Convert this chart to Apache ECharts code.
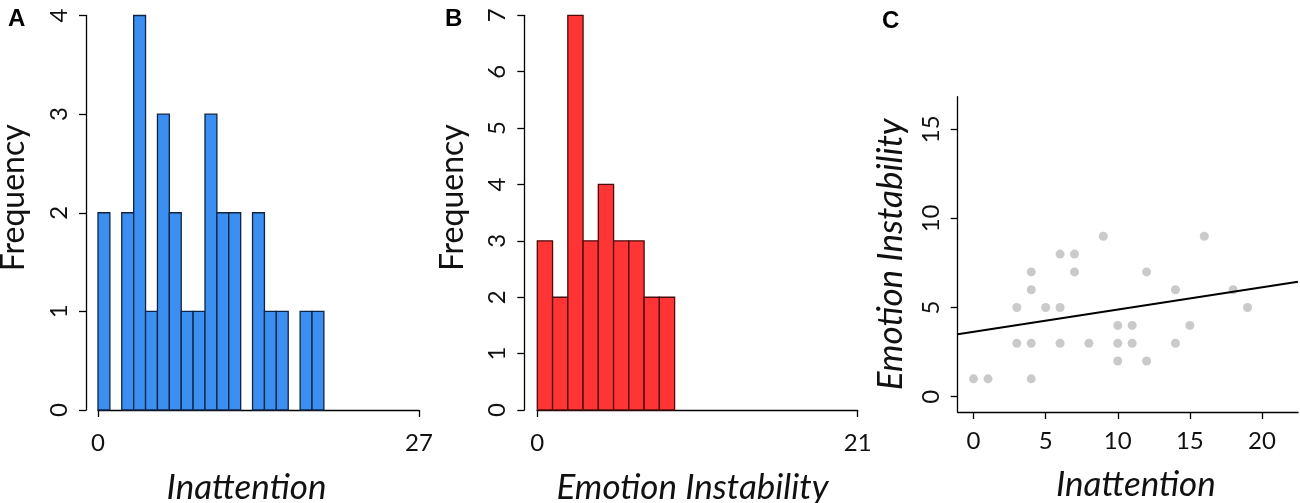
<!DOCTYPE html>
<html lang="en">
<head>
  <meta charset="UTF-8">
  <title>Inattention and Emotion Instability</title>
  <script src="https://cdn.jsdelivr.net/npm/echarts@6/dist/echarts.min.js"></script>
  <style>
    html, body { margin: 0; padding: 0; background: #fff; }
    #chart { width: 1300px; height: 503px; }
  </style>
</head>
<body>
<div id="chart"></div>
<script>
  // histogram A: inattention, bins of width 1 starting at 0
  const inattCounts = [2, 0, 2, 4, 1, 3, 2, 1, 1, 3, 2, 2, 0, 2, 1, 1, 0, 1, 1];
  // histogram B: emotion instability, bins of width 1 starting at 0
  const emoCounts = [3, 2, 7, 3, 4, 3, 3, 2, 2];
  // scatter C
  const scatterX = [0, 1, 3, 3, 4, 4, 4, 4, 5, 6, 6, 6, 7, 7, 8, 9, 10, 10, 10, 11, 11, 12, 12, 14, 14, 15, 16, 18, 19];
  const scatterY = [1, 1, 5, 3, 7, 6, 3, 1, 5, 8, 5, 3, 8, 7, 3, 9, 4, 3, 2, 4, 3, 7, 2, 6, 3, 4, 9, 6, 5];
  // fitted line end points
  const fitX = [-1.1, 22.5];
  const fitY = [3.5, 6.45];

  const tickFont = 'Lato, "Open Sans", sans-serif';

  function binData(counts) {
    const out = [];
    counts.forEach(function (c, i) {
      if (c > 0) out.push([i, i + 1, c]);
    });
    return out;
  }

  function histItem(fill, stroke) {
    return function (params, api) {
      const p0 = api.coord([api.value(0), api.value(2)]);
      const p1 = api.coord([api.value(1), 0]);
      return {
        type: 'rect',
        shape: { x: p0[0], y: p0[1], width: p1[0] - p0[0], height: p1[1] - p0[1] },
        style: { fill: fill, stroke: stroke, lineWidth: 1.3 }
      };
    };
  }

  const axisLine = { show: true, onZero: false, lineStyle: { color: '#000', width: 1.3 } };
  const tickStyle = { show: true, length: 7, lineStyle: { color: '#000', width: 1.3 } };
  const labelStyle = { color: '#111', fontSize: 24, fontFamily: tickFont };
  const nameStyle = { color: '#111', fontSize: 35, fontFamily: tickFont, fontStyle: 'italic' };
  const freqStyle = { color: '#111', fontSize: 32, fontFamily: tickFont, padding: [0, 0, 0, 30] };
  const letterStyle = { fontSize: 24, fontWeight: 'bold', fontFamily: 'Liberation Sans', color: '#000' };

  const chart = echarts.init(document.getElementById('chart'));
  chart.setOption({
    animation: false,
    title: [
      { text: 'A', left: 3, top: 2, textStyle: letterStyle },
      { text: 'B', left: 440, top: 2, textStyle: letterStyle },
      { text: 'C', left: 877, top: 4, textStyle: letterStyle }
    ],
    grid: [
      { left: 98, top: 15.5, width: 321, height: 394.5, outerBoundsMode: 'none' },
      { left: 537.3, top: 15.3, width: 320.4, height: 394.7, outerBoundsMode: 'none' },
      { left: 957.7, top: 96.7, width: 340.3, height: 315.3, outerBoundsMode: 'none' }
    ],
    xAxis: [
      {
        gridIndex: 0, type: 'value', min: 0, max: 27, interval: 27,
        axisLine: axisLine, axisTick: tickStyle, splitLine: { show: false },
        axisLabel: Object.assign({ margin: 21 }, labelStyle),
        name: 'Inattention', nameLocation: 'middle', nameGap: 60,
        nameTextStyle: Object.assign({ padding: [0, 24, 0, 0] }, nameStyle)
      },
      {
        gridIndex: 1, type: 'value', min: 0, max: 21, interval: 21,
        axisLine: axisLine, axisTick: tickStyle, splitLine: { show: false },
        axisLabel: Object.assign({ margin: 21 }, labelStyle),
        name: 'Emotion Instability', nameLocation: 'middle', nameGap: 60,
        nameTextStyle: Object.assign({ padding: [0, 10, 0, 0] }, nameStyle)
      },
      {
        gridIndex: 2, type: 'value', min: -1.1, max: 22.5,
        axisLine: axisLine, splitLine: { show: false },
        axisTick: Object.assign({ customValues: [0, 5, 10, 15, 20] }, tickStyle),
        axisLabel: Object.assign({ margin: 17, customValues: [0, 5, 10, 15, 20] }, labelStyle),
        name: 'Inattention', nameLocation: 'middle', nameGap: 55,
        nameTextStyle: Object.assign({ padding: [0, 0, 0, 16] }, nameStyle)
      }
    ],
    yAxis: [
      {
        gridIndex: 0, type: 'value', min: 0, max: 4, interval: 1, offset: 12,
        axisLine: axisLine, axisTick: tickStyle, splitLine: { show: false },
        axisLabel: Object.assign({ rotate: 90, margin: 15 }, labelStyle),
        name: 'Frequency', nameLocation: 'middle', nameGap: 56, nameRotate: 90,
        nameTextStyle: freqStyle
      },
      {
        gridIndex: 1, type: 'value', min: 0, max: 7, interval: 1, offset: 13,
        axisLine: axisLine, axisTick: tickStyle, splitLine: { show: false },
        axisLabel: Object.assign({ rotate: 90, margin: 15 }, labelStyle),
        name: 'Frequency', nameLocation: 'middle', nameGap: 56, nameRotate: 90,
        nameTextStyle: freqStyle
      },
      {
        gridIndex: 2, type: 'value', min: -0.86, max: 16.83,
        axisLine: axisLine, splitLine: { show: false },
        axisTick: Object.assign({ customValues: [0, 5, 10, 15] }, tickStyle),
        axisLabel: Object.assign({ rotate: 90, margin: 14, customValues: [0, 5, 10, 15] }, labelStyle),
        name: 'Emotion Instability', nameLocation: 'middle', nameGap: 49, nameRotate: 90,
        nameTextStyle: nameStyle
      }
    ],
    series: [
      {
        type: 'custom', xAxisIndex: 0, yAxisIndex: 0,
        renderItem: histItem('#3a8ff0', '#0f2444'),
        data: binData(inattCounts)
      },
      {
        type: 'custom', xAxisIndex: 1, yAxisIndex: 1,
        renderItem: histItem('#ff3535', '#4a0c0c'),
        data: binData(emoCounts)
      },
      {
        type: 'scatter', xAxisIndex: 2, yAxisIndex: 2,
        symbol: 'circle', symbolSize: 9,
        itemStyle: { color: '#bdbdbd' },
        data: scatterX.map(function (x, i) { return [x, scatterY[i]]; })
      },
      {
        type: 'line', xAxisIndex: 2, yAxisIndex: 2,
        showSymbol: false, lineStyle: { color: '#000', width: 2 },
        data: fitX.map(function (x, i) { return [x, fitY[i]]; })
      }
    ]
  });
</script>
</body>
</html>
